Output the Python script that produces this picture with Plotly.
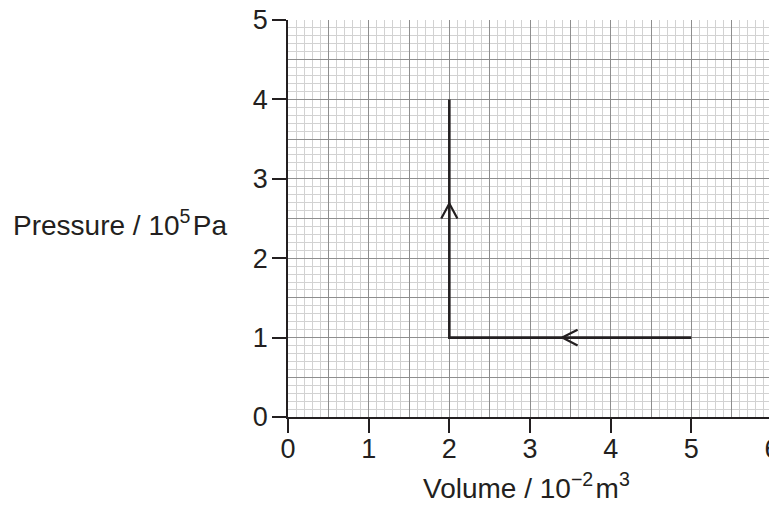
import plotly.graph_objects as go

# ---- data ----
x_range = [0, 6]
y_range = [0, 5]
x_ticks = [0, 1, 2, 3, 4, 5, 6]
y_ticks = [0, 1, 2, 3, 4, 5]
path_volume = [5, 2, 2]        # 10^-2 m^3
path_pressure = [1, 1, 4]      # 10^5 Pa
arrow_x = [3.4, 2.0]
arrow_y = [1.0, 2.69]
arrow_dir = ["left", "up"]

INK = "#231f20"
FONT = "Arial, Liberation Sans, sans-serif"

fig = go.Figure()

# invisible traces so both the main and the overlay (half-unit grid) axes are drawn
fig.add_trace(go.Scatter(x=[x_range[0]], y=[y_range[0]], mode="markers",
                         marker=dict(opacity=0), hoverinfo="skip", showlegend=False))
fig.add_trace(go.Scatter(x=[x_range[0]], y=[y_range[0]], mode="markers",
                         marker=dict(opacity=0), xaxis="x2", yaxis="y2",
                         hoverinfo="skip", showlegend=False))

fig.add_trace(go.Scatter(x=path_volume, y=path_pressure, mode="lines",
                         line=dict(color=INK, width=2.6), xaxis="x2", yaxis="y2",
                         showlegend=False))

# open chevron arrowheads
L, W = 0.19, 0.10
for ax, ay, d in zip(arrow_x, arrow_y, arrow_dir):
    if d == "left":
        xs = [ax + L, ax, ax + L]
        ys = [ay + W, ay, ay - W]
    else:
        xs = [ax - W, ax, ax + W]
        ys = [ay - L, ay, ay - L]
    fig.add_trace(go.Scatter(x=xs, y=ys, mode="lines",
                             line=dict(color=INK, width=2.2), xaxis="x2", yaxis="y2",
                             showlegend=False))

common = dict(showgrid=True, gridcolor="#8e8e8e", gridwidth=1, zeroline=False,
              automargin=False)
tick_axis = dict(ticks="outside", ticklen=14, tickwidth=1.5, tickcolor=INK,
                 showline=True, linecolor=INK, linewidth=1.8,
                 tickfont=dict(size=27, color=INK, family=FONT),
                 ticklabeloverflow="allow",
                 minor=dict(dtick=0.1, showgrid=True, gridcolor="#d2d2d2", gridwidth=1))

fig.update_layout(
    width=769, height=497,
    margin=dict(l=280, r=5, t=12, b=88),
    paper_bgcolor="white", plot_bgcolor="white",
    font=dict(family=FONT, color=INK),
    xaxis=dict(range=x_range, tickvals=x_ticks, ticklabelstandoff=-7, **tick_axis, **common),
    yaxis=dict(range=y_range, tickvals=y_ticks, ticklabelstandoff=-1, **tick_axis, **common),
    xaxis2=dict(range=x_range, overlaying="x", tick0=0.5, dtick=1, ticks="",
                showticklabels=False, showline=False, **common),
    yaxis2=dict(range=y_range, overlaying="y", tick0=0.5, dtick=1, ticks="",
                showticklabels=False, showline=False, **common),
    annotations=[
        dict(text="Pressure / 10<sup>5</sup>\u200aPa", xref="paper", yref="paper",
             x=-59 / 484, y=(417 - 223) / 397, xanchor="right", yanchor="middle",
             showarrow=False, font=dict(size=28, color=INK, family=FONT)),
        dict(text="Volume / 10<sup>−2</sup>\u200am<sup>3</sup>", xref="paper", yref="paper",
             x=(526 - 288) / 484, y=-(486 - 417) / 397, xanchor="center", yanchor="middle",
             showarrow=False, font=dict(size=28, color=INK, family=FONT)),
    ],
)

fig.write_html("out.html")
